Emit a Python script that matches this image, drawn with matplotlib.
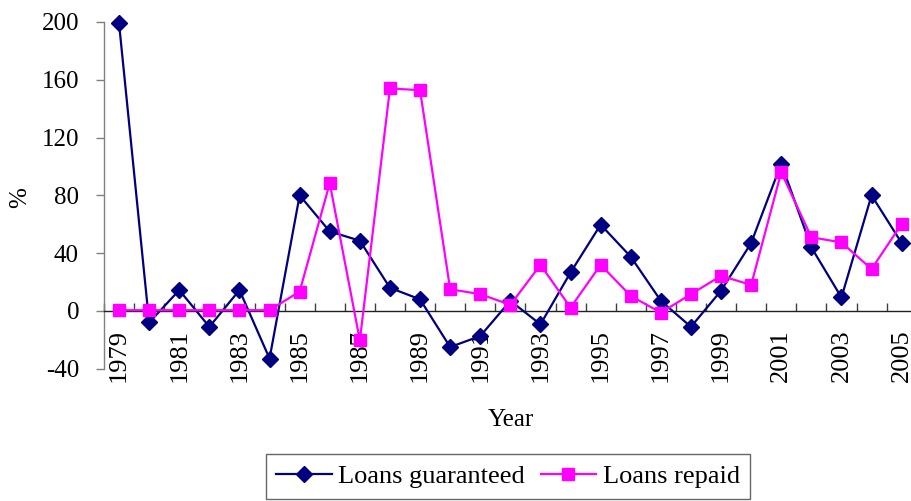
import matplotlib
matplotlib.use("Agg")
import matplotlib.pyplot as plt
import numpy as np

years = list(range(1979, 2006))
loans_guaranteed = [199, -8, 14.4, -11, 14.4, -33, 80, 55, 48.6, 16, 8, -25, -17.4, 7,
                    -9.3, 26.6, 59.7, 37.5, 7, -11, 14, 47, 102, 44, 9.3, 80, 47]
loans_repaid = [0.5, 0.5, 0.5, 0.5, 0.5, 0.5, 13.4, 88.4, -20.4, 154, 152.8, 15, 11.6, 4.2,
                31.9, 2.3, 31.9, 10.4, -1.2, 11.6, 24.3, 18, 96, 51, 47.4, 29, 60.2]
y_ticks = [-40, 0, 40, 80, 120, 160, 200]

plt.rcParams['font.family'] = ['Liberation Serif', 'DejaVu Serif']

fig = plt.figure(figsize=(9.11, 5.01), dpi=100)
ax = fig.add_axes([104/911, 1-368.7/501, (916.7-104)/911, (368.7-22)/501])

x = np.arange(len(years))
ax.plot(x, loans_guaranteed, color='#000080', lw=1.6, marker='D', ms=8,
        label='Loans guaranteed', clip_on=False, zorder=3)
ax.plot(x, loans_repaid, color='#FF00FF', lw=1.6, marker='s', ms=9,
        label='Loans repaid', clip_on=False, zorder=3)

ax.set_xlim(-0.5, len(years) - 0.5)
ax.set_ylim(y_ticks[0], y_ticks[-1])
ax.set_yticks(y_ticks)
ax.set_yticklabels([str(v) for v in y_ticks])

ax.set_xticks(x[::2])
ax.set_xticklabels([str(y) for y in years[::2]])
ax.set_xticks(np.arange(-0.5, len(years) + 0.5, 1), minor=True)
ax.tick_params(axis='x', which='major', length=0, pad=13, labelrotation=90, labelsize=19)
ax.tick_params(axis='x', which='minor', length=6, direction='in', color='#404040', width=1)
ax.tick_params(axis='y', length=6, direction='out', color='#808080', width=1, pad=12,
               labelsize=18)

ax.spines['top'].set_visible(False)
ax.spines['right'].set_visible(False)
ax.spines['bottom'].set_position(('data', 0))
ax.spines['bottom'].set_color('#202020')
ax.spines['left'].set_color('#808080')
ax.spines['bottom'].set_linewidth(1)
ax.spines['left'].set_linewidth(1)

fig.text(511/911, 1-420/501, 'Year', ha='center', va='center', fontsize=18)
fig.text(20/911, 1-198/501, '%', ha='center', va='center', rotation=90, fontsize=18)

leg = fig.legend(loc='upper center', bbox_to_anchor=(508/911, 1-454/501), ncol=2,
                 fontsize=19, frameon=True, fancybox=False, handlelength=2.1,
                 handletextpad=0.25, columnspacing=0.6, borderpad=0.4,
                 borderaxespad=0)
leg.get_frame().set_edgecolor('#404040')
leg.get_frame().set_linewidth(1)

fig.savefig('out.png', dpi=100)
